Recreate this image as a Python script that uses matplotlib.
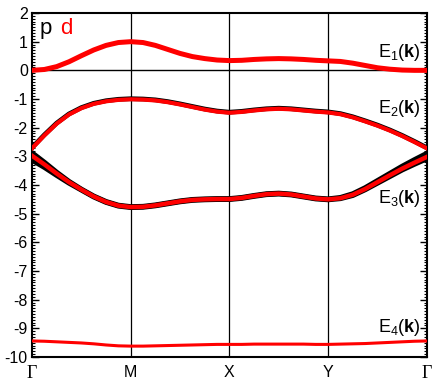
import matplotlib
matplotlib.use("Agg")
import matplotlib.pyplot as plt
from matplotlib.ticker import MultipleLocator
import numpy as np

plt.rcParams['font.family'] = ['Liberation Sans', 'DejaVu Sans']
plt.rcParams['axes.unicode_minus'] = False
plt.rcParams['mathtext.fontset'] = 'custom'
plt.rcParams['mathtext.rm'] = 'Liberation Sans'
plt.rcParams['mathtext.it'] = 'Liberation Sans:italic'
plt.rcParams['mathtext.bf'] = 'Liberation Sans:bold'

# k path positions (Gamma-M-X-Y-Gamma), 8 samples per segment
k = np.arange(33) * 0.125
sym_pos = [0, 1, 2, 3, 4]
sym_labels = ['\u0393', 'M', 'X', 'Y', '\u0393']

# bands
E1 = [0.00, 0.03, 0.13, 0.30, 0.51, 0.71, 0.87, 0.97, 1.00,
      0.97, 0.87, 0.73, 0.59, 0.48, 0.41, 0.36, 0.34,
      0.35, 0.38, 0.40, 0.41, 0.40, 0.38, 0.35, 0.33,
      0.31, 0.25, 0.17, 0.09, 0.04, 0.01, 0.00, 0.00]
E2 = [-2.72, -2.27, -1.86, -1.54, -1.32, -1.17, -1.08, -1.03, -1.01,
      -1.02, -1.05, -1.11, -1.19, -1.28, -1.37, -1.44, -1.48,
      -1.45, -1.40, -1.36, -1.34, -1.36, -1.40, -1.44, -1.47,
      -1.53, -1.64, -1.78, -1.93, -2.10, -2.29, -2.50, -2.72]
E3 = [-2.98, -3.28, -3.60, -3.90, -4.16, -4.40, -4.59, -4.72, -4.77,
      -4.76, -4.71, -4.64, -4.57, -4.52, -4.50, -4.49, -4.49,
      -4.45, -4.38, -4.32, -4.30, -4.33, -4.40, -4.47, -4.50,
      -4.46, -4.34, -4.14, -3.90, -3.66, -3.43, -3.22, -3.02]
E4 = [-9.44, -9.45, -9.47, -9.49, -9.51, -9.54, -9.58, -9.61, -9.62,
      -9.62, -9.61, -9.60, -9.59, -9.58, -9.57, -9.56, -9.56,
      -9.56, -9.55, -9.55, -9.55, -9.55, -9.55, -9.56, -9.56,
      -9.55, -9.54, -9.53, -9.51, -9.49, -9.47, -9.45, -9.44]
# p-character (black) bands, splitting near Gamma
P2 = [-2.70, -2.25, -1.84, -1.52, -1.30, -1.15, -1.06, -1.01, -0.99,
      -1.00, -1.03, -1.09, -1.17, -1.26, -1.35, -1.42, -1.46,
      -1.43, -1.38, -1.34, -1.32, -1.34, -1.38, -1.42, -1.45,
      -1.51, -1.62, -1.76, -1.91, -2.08, -2.27, -2.48, -2.70]
P3a = [-2.88, -3.21, -3.56, -3.88, -4.15, -4.39, -4.58, -4.71, -4.76,
       -4.75, -4.70, -4.63, -4.56, -4.51, -4.49, -4.48, -4.48,
       -4.44, -4.37, -4.31, -4.29, -4.32, -4.39, -4.46, -4.49,
       -4.44, -4.31, -4.10, -3.85, -3.60, -3.35, -3.12, -2.90]
P3b = [-3.13, -3.38, -3.66, -3.93, -4.17, -4.41, -4.60, -4.73, -4.78,
       -4.77, -4.72, -4.65, -4.58, -4.53, -4.51, -4.50, -4.50,
       -4.46, -4.39, -4.33, -4.31, -4.34, -4.41, -4.48, -4.51,
       -4.47, -4.36, -4.16, -3.93, -3.70, -3.47, -3.27, -3.08]

fig = plt.figure(figsize=(4.36, 3.86), dpi=100)
ax = fig.add_axes([0.0734, 0.0751, 0.9056, 0.8912])

for xp in sym_pos[1:-1]:
    ax.axvline(xp, color='black', lw=0.9, zorder=1)
ax.axhline(0, color='black', lw=1.0, zorder=1)

# black p bands under red d bands
ax.plot(k, P2, color='black', lw=3.4, zorder=2)
ax.plot(k, P3a, color='black', lw=3.8, zorder=2)
ax.plot(k, P3b, color='black', lw=3.8, zorder=2)

ax.plot(k, E1, color='#ff0000', lw=3.6, zorder=3)
ax.plot(k, E2, color='#ff0000', lw=3.0, zorder=3)
ax.plot(k, E3, color='#ff0000', lw=3.2, zorder=3)
ax.plot(k, E4, color='#ff0000', lw=2.2, zorder=3)

ax.set_xlim(0, 4)
ax.set_ylim(-10, 2)
ax.set_xticks(sym_pos)
ax.set_xticklabels(sym_labels, fontsize=11.5)
for lab in ax.get_xticklabels():
    if lab.get_text() == '\u0393':
        lab.set_family('Liberation Serif')
        lab.set_fontsize(13)
ax.tick_params(axis='x', length=0, pad=6)

ax.yaxis.set_major_locator(MultipleLocator(1))
ax.yaxis.set_minor_locator(MultipleLocator(0.1))
ax.tick_params(axis='y', which='major', direction='in', length=5, width=1.0,
               left=True, right=True, labelsize=11.5, pad=3)
ax.tick_params(axis='y', which='minor', direction='in', length=2.5, width=0.8,
               left=True, right=True)
for s in ax.spines.values():
    s.set_linewidth(1.5)

ax.text(0.02, 0.94, 'p', color='black', fontsize=16, transform=ax.transAxes, va='baseline')
ax.text(0.071, 0.94, 'd', color='#ff0000', fontsize=16, transform=ax.transAxes, va='baseline')

labels = [r'$\mathrm{E}_1(\mathbf{k})$', r'$\mathrm{E}_2(\mathbf{k})$',
          r'$\mathrm{E}_3(\mathbf{k})$', r'$\mathrm{E}_4(\mathbf{k})$']
label_y = [0.45, -1.50, -4.64, -9.14]
for t, yv in zip(labels, label_y):
    ax.text(3.94, yv, t, fontsize=13, ha='right', va='baseline')

fig.savefig('out.png', dpi=100)
